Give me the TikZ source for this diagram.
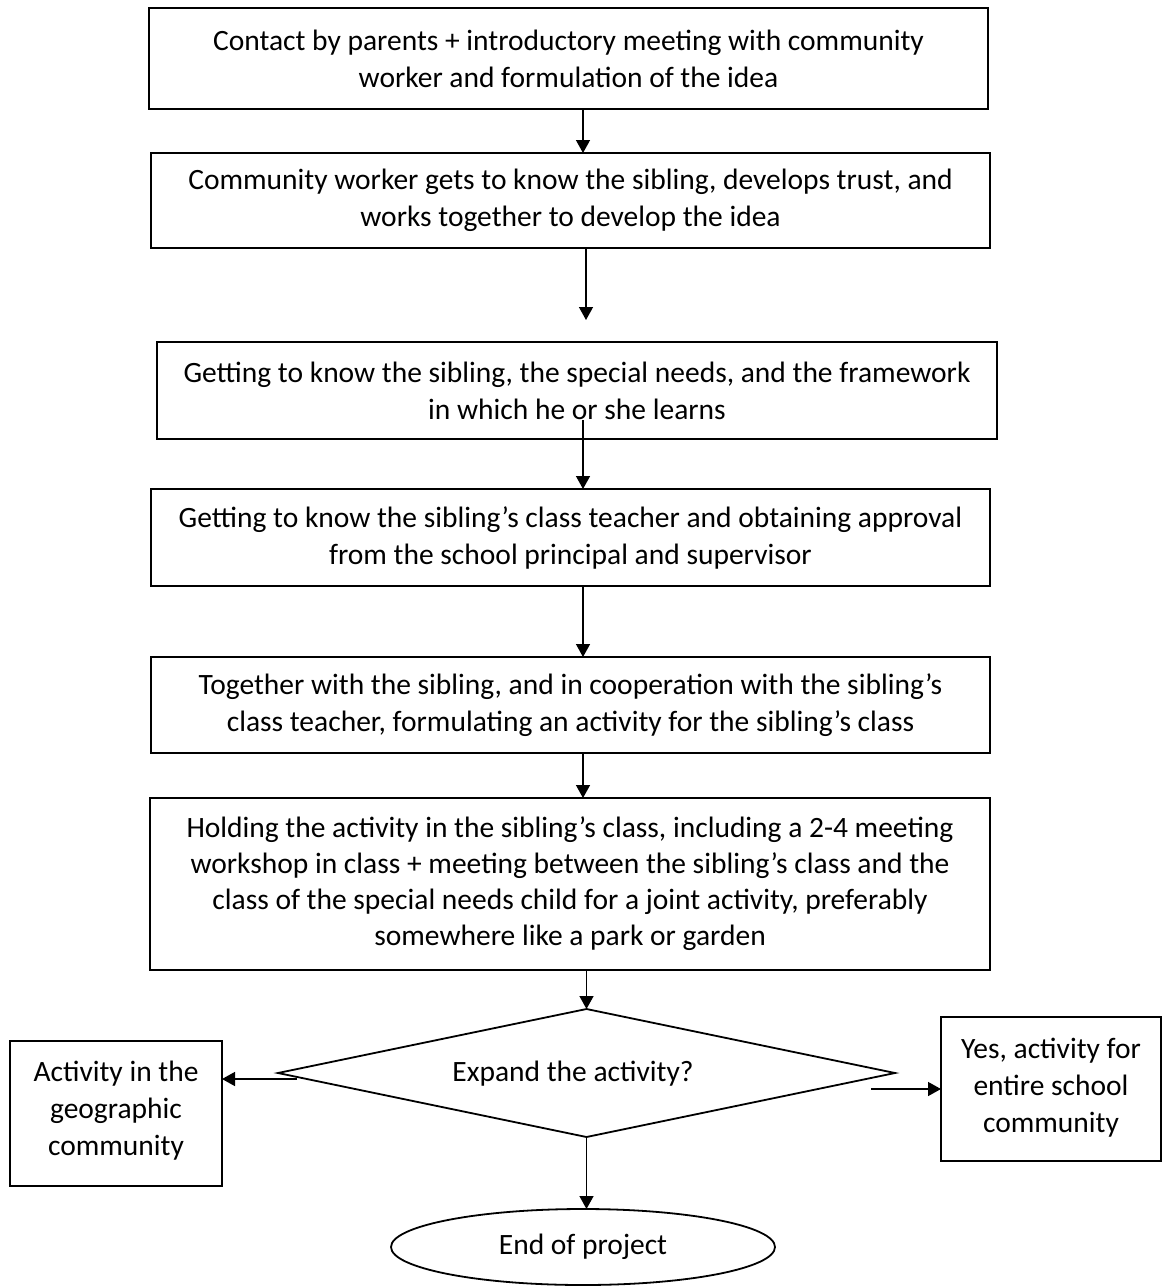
\documentclass[tikz,border=0pt]{standalone}
\usepackage{fontspec}
\setmainfont{Carlito}
\usetikzlibrary{shapes.geometric,arrows.meta}
\begin{document}
\begin{tikzpicture}[x=1pt,y=-1pt,
  boxnode/.style={draw, line width=1.8pt, inner sep=0pt, outer sep=0pt, align=center,
                  font=\fontsize{29.5}{37}\selectfont},
  txt/.style={inner sep=0pt, align=center, font=\fontsize{29.5}{37}\selectfont},
  arr/.style={line width=1.4pt, -{Triangle[width=14pt,length=13pt]}},
  ]
\useasboundingbox[fill=white] (0,0) rectangle (1162,1288);

\node[boxnode, minimum width=839pt, minimum height=101pt] (b1) at (568.5,58.5)
  {Contact by parents + introductory meeting with community\\worker and formulation of the idea};
\node[boxnode, minimum width=839pt, minimum height=95pt] (b2) at (570.5,200.5)
  {Community worker gets to know the sibling, develops trust, and\\works together to develop the idea};
\node[boxnode, minimum width=840pt, minimum height=97pt] (b3) at (577,390.5)
  {Getting to know the sibling, the special needs, and the framework\\in which he or she learns};
\node[boxnode, minimum width=839pt, minimum height=97pt] (b4) at (570.5,537.5)
  {Getting to know the sibling’s class teacher and obtaining approval\\from the school principal and supervisor};
\node[boxnode, minimum width=839pt, minimum height=96pt] (b5) at (570.5,705)
  {Together with the sibling, and in cooperation with the sibling’s\\class teacher, formulating an activity for the sibling’s class};
\node[boxnode, minimum width=840pt, minimum height=172pt, font=\fontsize{29.5}{36}\selectfont] (b6) at (570,884)
  {Holding the activity in the sibling’s class, including a 2-4 meeting\\workshop in class + meeting between the sibling’s class and the\\class of the special needs child for a joint activity, preferably\\somewhere like a park or garden};

\node[draw, line width=1.8pt, shape=diamond, aspect=4.82, minimum width=617pt, minimum height=128pt,
      inner sep=0pt, outer sep=0pt] (dec) at (586.5,1073) {};
\node[txt] (dect) at (573,1074) {Expand the activity?};

\node[boxnode, minimum width=212pt, minimum height=145pt] (lb) at (116,1113.5) {};
\node[txt] (lbt) at (116,1111) {Activity in the\\geographic\\community};
\node[boxnode, minimum width=220pt, minimum height=144pt] (rb) at (1051,1089) {};
\node[txt] (rbt) at (1051,1088) {Yes, activity for\\entire school\\community};

\node[draw, line width=1.8pt, shape=ellipse, minimum width=384pt, minimum height=76pt,
      inner sep=0pt, outer sep=0pt, font=\fontsize{29.5}{37}\selectfont] (end) at (583,1247)
  {End of project};

\coordinate (x1) at (583,0);
\coordinate (c2) at (586,320);
\coordinate (s3) at (583,420);
\coordinate (l0) at (297,1079);
\coordinate (r0) at (871,1089);

\draw[arr] (b1.south -| x1) -- (b2.north -| x1);
\draw[arr] (b2.south -| c2) -- (c2);
\draw[arr] (s3) -- (b4.north -| s3);
\draw[arr] (b4.south -| x1) -- (b5.north -| x1);
\draw[arr] (b5.south -| x1) -- (b6.north -| x1);
\draw[arr] (b6.south -| dec.north) -- (dec.north);
\draw[arr] (dec.south) -- (end.north -| dec.south);
\draw[arr] (l0) -- (lb.east |- l0);
\draw[arr] (r0) -- (rb.west |- r0);
\end{tikzpicture}
\end{document}
